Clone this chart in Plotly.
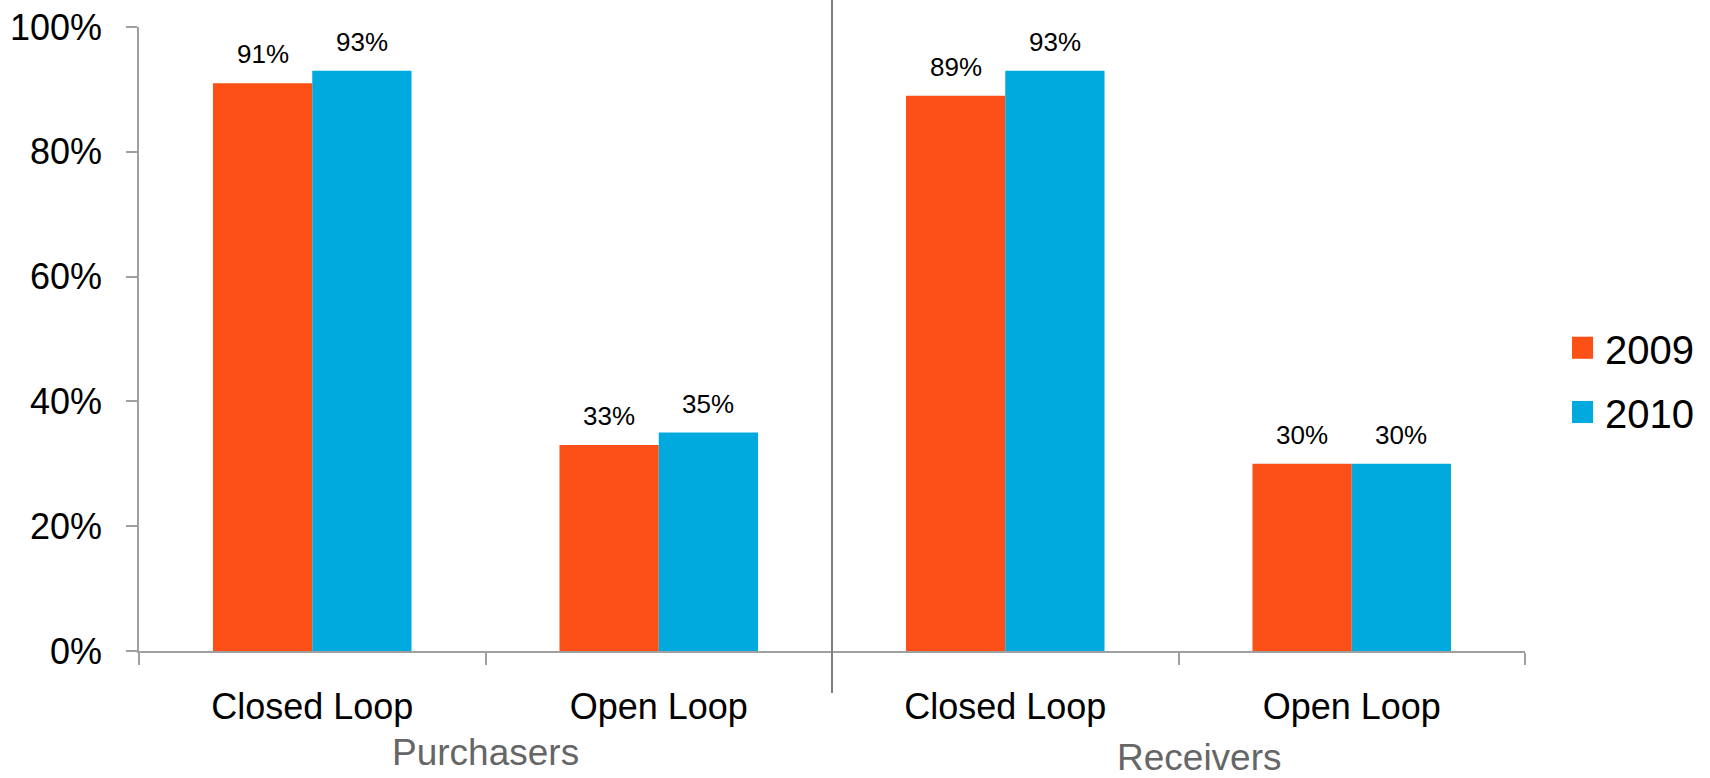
import plotly.graph_objects as go

# Survey share by respondent group and card type
groups = ["Purchasers", "Purchasers", "Receivers", "Receivers"]
card_types = ["Closed Loop", "Open Loop", "Closed Loop", "Open Loop"]
series_names = ["2009", "2010"]
values_2009 = [91, 33, 89, 30]
values_2010 = [93, 35, 93, 30]
series_colors = ["#FC5017", "#00AADF"]
y_ticks = [0, 20, 40, 60, 80, 100]

FONT = "Arial, Liberation Sans, sans-serif"
cat_ids = [f"{g} | {c}" for g, c in zip(groups, card_types)]

fig = go.Figure()
for name, vals, color in zip(series_names, [values_2009, values_2010], series_colors):
    fig.add_trace(go.Bar(
        x=cat_ids, y=vals, name=name, marker=dict(color=color, line=dict(width=0)),
        showlegend=False,
    ))

# value labels above each bar
n_series = len(series_names)
for s, vals in enumerate([values_2009, values_2010]):
    for i, v in enumerate(vals):
        offset = (s - (n_series - 1) / 2) * 0.2865
        fig.add_annotation(
            x=i + offset, y=v, xref="x", yref="y", text=f"{v}%",
            showarrow=False, yanchor="bottom", yshift=12,
            font=dict(family=FONT, size=26, color="#000000"),
        )

# group labels under the category labels
group_names = ["Purchasers", "Receivers"]
group_x = [0.5, 2.56]
group_y = [-0.162, -0.170]
for gname, gx, gy in zip(group_names, group_x, group_y):
    fig.add_annotation(
        x=gx, y=gy, xref="x", yref="paper", text=gname, showarrow=False,
        yanchor="middle", font=dict(family=FONT, size=37, color="#666666"),
    )

# divider between the two groups
fig.add_shape(type="line", xref="x", yref="paper", x0=1.5, x1=1.5,
              y0=-0.0673, y1=1.05, line=dict(color="#7F7F7F", width=2))

# legend drawn as swatches + labels
legend_y = [0.486, 0.383]
for name, color, ly in zip(series_names, series_colors, legend_y):
    fig.add_shape(type="rect", xref="paper", yref="paper",
                  x0=1.0339, x1=1.0491, y0=ly - 0.0177, y1=ly + 0.0177,
                  fillcolor=color, line=dict(width=0))
    fig.add_annotation(x=1.0563, y=ly - 0.003, xref="paper", yref="paper",
                       text=name, showarrow=False, xanchor="left", yanchor="middle",
                       font=dict(family=FONT, size=40, color="#000000"))

fig.update_layout(
    width=1710, height=778,
    margin=dict(l=139, r=185, t=27, b=127),
    paper_bgcolor="white", plot_bgcolor="white",
    barmode="group", bargap=0.427, bargroupgap=0,
    font=dict(family=FONT, color="#000000"),
    showlegend=False,
    xaxis=dict(
        type="category", tickvals=cat_ids, ticktext=card_types,
        tickson="boundaries", ticks="outside", ticklen=12, tickwidth=1.5,
        tickcolor="#A0A0A0", showline=True, linecolor="#A0A0A0", linewidth=1.5,
        showgrid=False, tickfont=dict(family=FONT, size=36, color="#000000"),
        ticklabelstandoff=23, automargin=False, fixedrange=True,
    ),
    yaxis=dict(
        range=[0, 100], tickvals=y_ticks, ticktext=[f"{v}%" for v in y_ticks],
        ticks="outside", ticklen=11, tickwidth=1.5, tickcolor="#A0A0A0",
        showline=True, linecolor="#A0A0A0", linewidth=1.5, showgrid=False,
        zeroline=False, tickfont=dict(family=FONT, size=36, color="#000000"),
        ticklabelstandoff=17, automargin=False, fixedrange=True,
    ),
)

fig.write_html("out.html", config={"displayModeBar": False})
